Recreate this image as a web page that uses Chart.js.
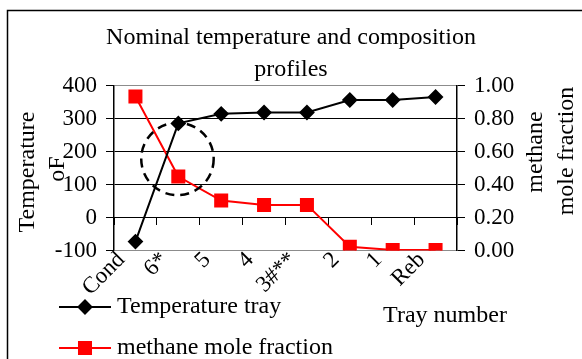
<!DOCTYPE html>
<html>
<head>
<meta charset="utf-8">
<title>Nominal temperature and composition profiles</title>
<script src="https://cdn.jsdelivr.net/npm/chart.js@4.4.0/dist/chart.umd.min.js"></script>
<style>
  html, body { margin: 0; padding: 0; background: #fff; }
  #wrap { width: 582px; height: 359px; }
</style>
</head>
<body>
<div id="wrap"><canvas id="profiles"></canvas></div>
<script>
// trays from condenser down to reboiler
const trays = ['Cond', '6*', '5', '4', '3#**', '2', '1', 'Reb'];
const temperatureF = [-73, 286, 315, 319, 319, 357, 357, 366];
const methaneFraction = [0.935, 0.449, 0.303, 0.277, 0.277, 0.023, 0.003, 0.003];
const tempTicks = [-100, 0, 100, 200, 300, 400];
const fractionTicks = [0, 0.2, 0.4, 0.6, 0.8, 1.0];

const SERIF = "'Liberation Serif', 'Times New Roman', serif";
const TEXT_SIZE = 24;
const TICK_SIZE = 23;

// dashed ring around the 6* tray (category index, °F, radius in °F)
const ring = { x: 0.98, y: 178, r: 110 };

/**
 * Frame, axis titles, legend and the dashed ring.
 */
const extras = {
    id: 'extras',
    beforeDraw(chart) {
        const { ctx, width, height } = chart;
        ctx.save();
        ctx.fillStyle = '#ffffff';
        ctx.fillRect(0, 0, width, height);
        ctx.strokeStyle = '#000';
        ctx.lineWidth = 1.5;
        ctx.strokeRect(7.5, 10.5, width + 20, height + 20);
        ctx.restore();
    },
    afterDatasetsDraw(chart) {
        const { ctx, scales } = chart;
        const cx = scales.x.getPixelForValue(ring.x);
        const cy = scales.y.getPixelForValue(ring.y);
        const r = Math.abs(scales.y.getPixelForValue(ring.y + ring.r) - cy);
        ctx.save();
        ctx.strokeStyle = '#000';
        ctx.lineWidth = 2.5;
        ctx.setLineDash([9, 6]);
        ctx.beginPath();
        ctx.arc(cx, cy, r, 0, Math.PI * 2);
        ctx.stroke();
        ctx.restore();
    },
    afterDraw(chart) {
        const { ctx } = chart;
        ctx.save();
        ctx.fillStyle = '#000';
        ctx.font = `${TEXT_SIZE}px ${SERIF}`;
        ctx.textAlign = 'center';
        ctx.textBaseline = 'middle';

        // rotated axis titles
        const vertical = (text, x, y) => {
            ctx.save();
            ctx.translate(x, y);
            ctx.rotate(-Math.PI / 2);
            ctx.fillText(text, 0, 0);
            ctx.restore();
        };
        vertical('Temperature', 28, 172);
        vertical('oF', 58, 169);
        vertical('methane', 536, 152);
        vertical('mole fraction', 567, 151);

        ctx.fillText('Tray number', 445, 316);

        // legend
        const rows = [307, 348];
        chart.data.datasets.forEach((ds, i) => {
            const y = rows[i];
            ctx.strokeStyle = ds.borderColor;
            ctx.lineWidth = ds.borderWidth;
            ctx.beginPath();
            ctx.moveTo(59, y);
            ctx.lineTo(111, y);
            ctx.stroke();
            ctx.fillStyle = ds.backgroundColor;
            Chart.helpers.drawPoint(ctx, {
                pointStyle: ds.pointStyle,
                radius: ds.pointRadius,
                rotation: 0,
                borderWidth: 1
            }, 85, y);
            ctx.fill();
            ctx.fillStyle = '#000';
            ctx.textAlign = 'left';
            ctx.fillText(ds.label, 117, y);
        });
        ctx.restore();
    }
};

const tickFont = { family: SERIF, size: TICK_SIZE };

const chart = new Chart(document.getElementById('profiles'), {
    type: 'line',
    data: {
        labels: trays,
        datasets: [
            {
                label: 'Temperature tray',
                data: temperatureF,
                yAxisID: 'y',
                borderColor: '#000000',
                backgroundColor: '#000000',
                borderWidth: 2,
                pointStyle: 'rectRot',
                pointRadius: 6.5,
                tension: 0
            },
            {
                label: 'methane mole fraction',
                data: methaneFraction,
                yAxisID: 'y1',
                borderColor: '#ff0000',
                backgroundColor: '#ff0000',
                borderWidth: 2,
                pointStyle: 'rect',
                pointRadius: 8.5,
                tension: 0
            }
        ]
    },
    options: {
        responsive: true,
        maintainAspectRatio: false,
        animation: false,
        layout: { padding: 0 },
        plugins: {
            legend: { display: false },
            tooltip: { enabled: false },
            title: {
                display: true,
                text: ['Nominal temperature and composition', 'profiles'],
                color: '#000',
                font: { family: SERIF, size: TEXT_SIZE, weight: 'normal', lineHeight: 1.33 },
                padding: { top: 22, bottom: 0 }
            }
        },
        scales: {
            x: {
                type: 'category',
                position: 'bottom',
                offset: true,
                grid: { display: false, drawTicks: false, tickLength: 0 },
                border: { display: false },
                ticks: {
                    color: '#000',
                    font: tickFont,
                    minRotation: 45,
                    maxRotation: 45,
                    labelOffset: -14,
                    padding: -4,
                    autoSkip: false
                },
                afterFit(scale) { scale.height = 108.5; }
            },
            // category tick marks along the 0 °F line
            xAt0: {
                type: 'category',
                position: { y: 0 },
                offset: true,
                ticks: { display: false },
                grid: {
                    offset: true,
                    drawOnChartArea: false,
                    drawTicks: true,
                    tickLength: 7,
                    color: '#000'
                },
                border: { color: '#000', width: 1 }
            },
            y: {
                position: 'left',
                min: -100,
                max: 400,
                afterBuildTicks(scale) { scale.ticks = tempTicks.map(v => ({ value: v })); },
                ticks: { color: '#000', font: tickFont, padding: 9 },
                grid: {
                    color: c => (c.tick && (c.tick.value === 400 || c.tick.value === -100)) ? '#8c8c8c' : '#000',
                    tickColor: '#000',
                    tickLength: 8,
                    lineWidth: 1
                },
                border: { color: '#000', width: 1.5 },
                afterFit(scale) { scale.width = 114; }
            },
            y1: {
                position: 'right',
                min: 0,
                max: 1,
                afterBuildTicks(scale) { scale.ticks = fractionTicks.map(v => ({ value: v })); },
                ticks: {
                    color: '#000',
                    font: tickFont,
                    padding: 9,
                    callback: v => Number(v).toFixed(2)
                },
                grid: { drawOnChartArea: false, tickLength: 8, color: '#000' },
                border: { color: '#000', width: 1.5 },
                afterFit(scale) { scale.width = 125; }
            }
        }
    },
    plugins: [extras]
});
</script>
</body>
</html>
